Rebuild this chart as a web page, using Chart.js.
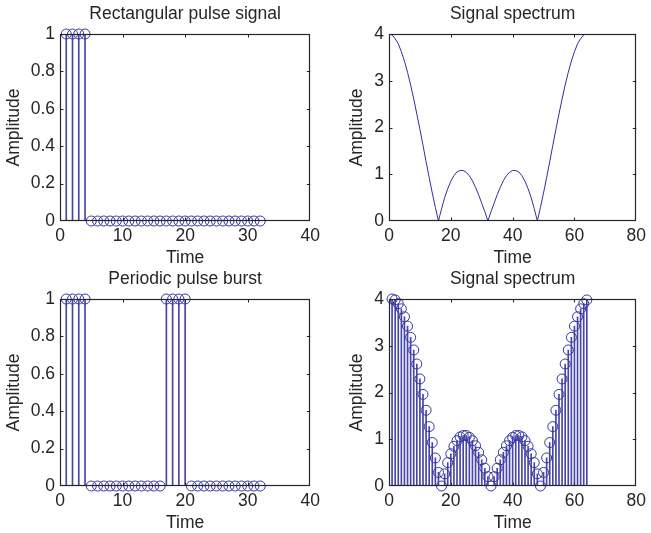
<!DOCTYPE html>
<html><head><meta charset="utf-8">
<script src="https://cdn.jsdelivr.net/npm/chart.js@4"></script>
<style>
html,body{margin:0;padding:0;background:#fff;width:651px;height:533px;overflow:hidden}
canvas{position:absolute}
</style></head><body>
<canvas id="c1" width="325" height="269" style="left:0;top:0"></canvas>
<canvas id="c2" width="326" height="269" style="left:325px;top:0"></canvas>
<canvas id="c3" width="325" height="269" style="left:0;top:265px"></canvas>
<canvas id="c4" width="326" height="269" style="left:325px;top:265px"></canvas>
<script>
// ---- data ----
const pulseTime = [1,2,3,4,5,6,7,8,9,10,11,12,13,14,15,16,17,18,19,20,21,22,23,24,25,26,27,28,29,30,31,32];
const pulseAmp  = [1,1,1,1,0,0,0,0,0,0,0,0,0,0,0,0,0,0,0,0,0,0,0,0,0,0,0,0,0,0,0,0];
const burstAmp  = [1,1,1,1,0,0,0,0,0,0,0,0,0,0,0,0,1,1,1,1,0,0,0,0,0,0,0,0,0,0,0,0];
const lineTime  = [0,1,2,3,4,5,6,7,8,9,10,11,12,13,14,15,16,17,18,19,20,21,22,23,24,25,26,27,28,29,30,31,32,33,34,35,36,37,38,39,40,41,42,43,44,45,46,47,48,49,50,51,52,53,54,55,56,57,58,59,60,61,62,63];
const stemTime  = [1,2,3,4,5,6,7,8,9,10,11,12,13,14,15,16,17,18,19,20,21,22,23,24,25,26,27,28,29,30,31,32,33,34,35,36,37,38,39,40,41,42,43,44,45,46,47,48,49,50,51,52,53,54,55,56,57,58,59,60,61,62,63,64];
const spectrumAmp = [4,3.98,3.90,3.79,3.62,3.42,3.18,2.91,2.61,2.29,1.96,1.62,1.27,0.93,0.60,0.29,0,0.26,0.50,0.69,0.85,0.97,1.05,1.08,1.08,1.04,0.97,0.86,0.72,0.56,0.38,0.20,0,0.20,0.38,0.56,0.72,0.86,0.97,1.04,1.08,1.08,1.05,0.97,0.85,0.69,0.50,0.26,0,0.29,0.60,0.93,1.27,1.62,1.96,2.29,2.61,2.91,3.18,3.42,3.62,3.79,3.90,3.98];
const titles = ['Rectangular pulse signal','Signal spectrum','Periodic pulse burst','Signal spectrum'];
const xLabel = 'Time', yLabel = 'Amplitude';

// ---- style ----
const TXT = '#262626', STEM = '#4646a8', MARK = '#3434a8', LINE = '#30309c';
const FONT = {family:"'Liberation Sans', Arial, Helvetica, sans-serif", size:17.5};
Chart.defaults.font = FONT;
Chart.defaults.color = TXT;

const frame = {
  id:'frame',
  afterDatasetsDraw(chart){
    const {ctx, chartArea:a, scales:{x,y}} = chart;
    ctx.save();
    ctx.strokeStyle = TXT; ctx.lineWidth = 1.2;
    ctx.strokeRect(Math.round(a.left)+0.5, Math.round(a.top)+0.5, Math.round(a.width)-1, Math.round(a.height)-1);
    const L = 3.5;
    ctx.lineWidth = 1;
    ctx.beginPath();
    x.ticks.forEach(t=>{
      const p = Math.round(x.getPixelForValue(t.value))+0.5;
      if (p < a.left+2 || p > a.right-2) return;
      ctx.moveTo(p, a.bottom); ctx.lineTo(p, a.bottom-L);
      ctx.moveTo(p, a.top); ctx.lineTo(p, a.top+L);
    });
    y.ticks.forEach(t=>{
      const p = Math.round(y.getPixelForValue(t.value))+0.5;
      if (p < a.top+2 || p > a.bottom-2) return;
      ctx.moveTo(a.left, p); ctx.lineTo(a.left+L, p);
      ctx.moveTo(a.right, p); ctx.lineTo(a.right-L, p);
    });
    ctx.stroke();
    ctx.restore();
  }
};

function pts(xs, ys){ return xs.map((v,i)=>({x:v, y:ys[i]})); }

function stemSets(xs, ys){
  return [
    {type:'scatter', data:pts(xs,ys), showLine:false, pointStyle:'circle', pointRadius:5,
     pointBorderWidth:1, pointBorderColor:MARK, pointBackgroundColor:'rgba(0,0,0,0)', clip:false, order:0},
    {type:'bar', data:pts(xs,ys), barThickness:1, backgroundColor:STEM, borderWidth:0, order:1}
  ];
}

const fmt = v => String(Number(v.toFixed(2)));

function make(id, title, datasets, xMax, xStep, yMax, yStep, yAxisW, padLeft, padRight){
  return new Chart(document.getElementById(id), {
    type:'bar',
    data:{datasets},
    options:{
      responsive:false, animation:false, devicePixelRatio:1,
      layout:{padding:{left:padLeft, right:padRight, top:0, bottom:0}},
      plugins:{
        legend:{display:false}, tooltip:{enabled:false},
        title:{display:true, fullSize:false, text:title, color:TXT, font:{...FONT, weight:'normal'}, padding:{top:4, bottom:9}}
      },
      scales:{
        x:{type:'linear', min:0, max:xMax, offset:false,
           grid:{display:false, drawTicks:false}, border:{display:false},
           ticks:{stepSize:xStep, padding:5, color:TXT, maxRotation:0, callback:fmt},
           title:{display:true, text:xLabel, color:TXT, padding:{top:0, bottom:0}},
           afterFit(s){ s.height = 48; }},
        y:{type:'linear', min:0, max:yMax,
           grid:{display:false, drawTicks:false}, border:{display:false},
           ticks:{stepSize:yStep, padding:5, color:TXT, callback:fmt},
           title:{display:true, text:yLabel, color:TXT, padding:{top:3.5, bottom:0}},
           afterFit(s){ s.width = yAxisW; }}
      }
    },
    plugins:[frame]
  });
}

make('c1', titles[0], stemSets(pulseTime, pulseAmp), 40, 10, 1, 0.2, 60, 0, 14);
make('c2', titles[1], [{type:'line', data:pts(lineTime, spectrumAmp), borderColor:LINE, borderWidth:1, pointRadius:0, tension:0, fill:false}], 80, 20, 4, 1, 46, 18, 10);
make('c3', titles[2], stemSets(pulseTime, burstAmp), 40, 10, 1, 0.2, 60, 0, 14);
make('c4', titles[3], stemSets(stemTime, spectrumAmp), 80, 20, 4, 1, 46, 18, 10);
</script>
</body></html>
